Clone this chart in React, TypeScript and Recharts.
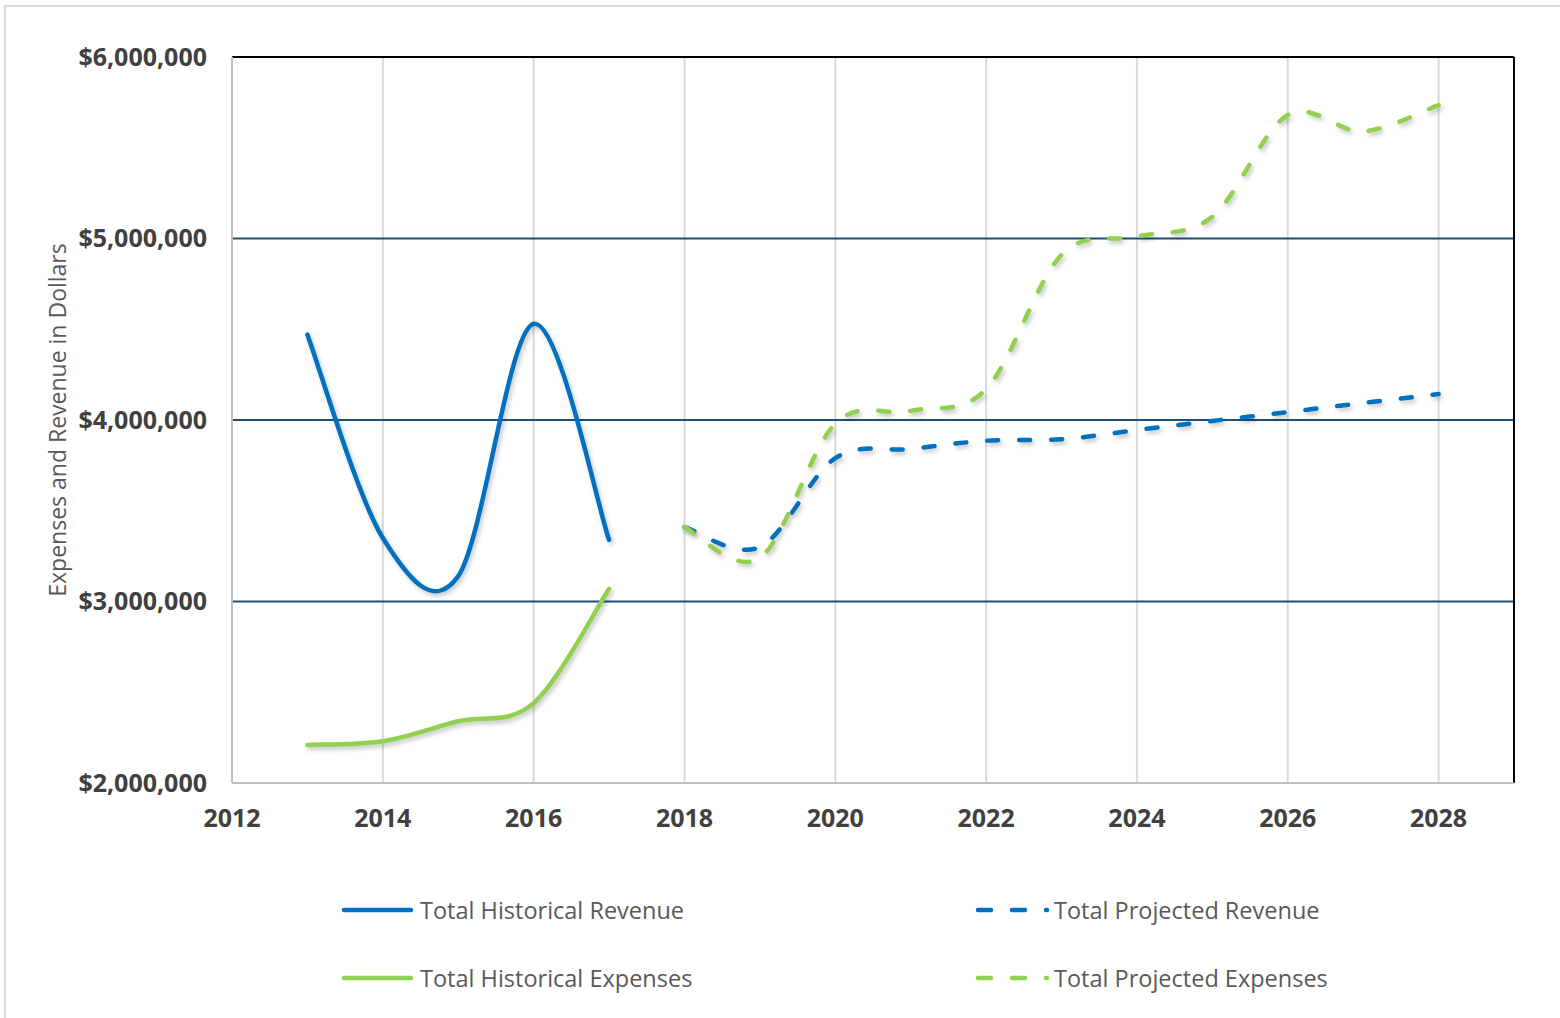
import React from 'react';
import { LineChart, Line, XAxis, YAxis, CartesianGrid, ReferenceLine } from 'recharts';

const histYears = [2013, 2014, 2015, 2016, 2017];
const histRevenue = [4470000, 3350000, 3140000, 4530000, 3340000];
const histExpenses = [2210000, 2230000, 2340000, 2440000, 3070000];

const projYears = [2018, 2019, 2020, 2021, 2022, 2023, 2024, 2025, 2026, 2027, 2028];
const projRevenue = [3410000, 3300000, 3790000, 3840000, 3886000, 3894000, 3945000, 3995000, 4044000, 4094000, 4143000];
const projExpenses = [3410000, 3240000, 3980000, 4050000, 4170000, 4910000, 5010000, 5120000, 5680000, 5590000, 5735000];

const xTicks = [2012, 2014, 2016, 2018, 2020, 2022, 2024, 2026, 2028];
const yTicks = [2000000, 3000000, 4000000, 5000000, 6000000];

const BLUE = '#0070C0';
const GREEN = '#92D050';
const FONT = '"Open Sans", "Liberation Sans", sans-serif';

const toRows = (years: number[], values: number[]) => years.map((year, i) => ({ year, v: values[i] }));

// Excel-style smoothing (Catmull-Rom via cubic Bezier)
const excelSmooth = (context: any) => {
  let xs: number[] = [];
  let ys: number[] = [];
  return {
    areaStart() {},
    areaEnd() {},
    lineStart() { xs = []; ys = []; },
    point(x: number, y: number) { xs.push(+x); ys.push(+y); },
    lineEnd() {
      const n = xs.length;
      if (!n) return;
      context.moveTo(xs[0], ys[0]);
      for (let i = 0; i < n - 1; i++) {
        const a = Math.max(i - 1, 0);
        const d = Math.min(i + 2, n - 1);
        context.bezierCurveTo(
          xs[i] + (xs[i + 1] - xs[a]) / 6,
          ys[i] + (ys[i + 1] - ys[a]) / 6,
          xs[i + 1] - (xs[d] - xs[i]) / 6,
          ys[i + 1] - (ys[d] - ys[i]) / 6,
          xs[i + 1],
          ys[i + 1]
        );
      }
    },
  };
};

const fmt = (v: number) => '$' + v.toLocaleString('en-US');

const YLabel = (props: any) => {
  const vb = props.viewBox || {};
  const cx = vb.x + 57;
  const cy = vb.y + vb.height / 2;
  return (
    <text
      x={cx}
      y={cy}
      transform={`rotate(-90 ${cx} ${cy})`}
      textAnchor="middle"
      dominantBaseline="central"
      fill="#595959"
      fontSize={23}
      fontFamily={FONT}
    >
      Expenses and Revenue in Dollars
    </text>
  );
};

const shadow = { filter: 'drop-shadow(2px 3px 2px rgba(0,0,0,0.22))' };

const LegendItem = ({ left, top, color, dashed, label }: any) => (
  <div style={{ position: 'absolute', left, top: top - 16, height: 32, display: 'flex', alignItems: 'center', whiteSpace: 'nowrap' }}>
    <svg width={76} height={32} style={{ display: 'block' }}>
      {dashed ? (
        <line x1={4} y1={16} x2={73} y2={16} stroke={color} strokeWidth={4.5} strokeLinecap="round" strokeDasharray="13 21" />
      ) : (
        <line x1={4} y1={16} x2={71} y2={16} stroke={color} strokeWidth={4.5} strokeLinecap="round" />
      )}
    </svg>
    <span style={{ fontFamily: FONT, fontSize: 23.5, color: '#595959', marginLeft: 4 }}>{label}</span>
  </div>
);

export default function App() {
  const hr = toRows(histYears, histRevenue);
  const he = toRows(histYears, histExpenses);
  const pr = toRows(projYears, projRevenue);
  const pe = toRows(projYears, projExpenses);
  const tickStyle = { fill: '#404040', fontSize: 25, fontWeight: 700, fontFamily: FONT };
  return (
    <div style={{ position: 'absolute', left: 0, top: 0, width: 1560, height: 1018, overflow: 'hidden', background: '#fff' }}>
      <div style={{ position: 'absolute', left: 4, top: 5, width: 1600, height: 1100, borderTop: '2px solid #D9D9D9', borderLeft: '2px solid #D9D9D9' }} />
      <LineChart width={1560} height={1018} margin={{ top: 57, right: 46, left: 0, bottom: 175 }} style={{ position: 'absolute', left: 0, top: 0 }}>
        <CartesianGrid horizontal={false} stroke="#D9D9D9" strokeWidth={2} verticalValues={[2014, 2016, 2018, 2020, 2022, 2024, 2026, 2028]} />
        <CartesianGrid vertical={false} stroke="#1F4E79" strokeWidth={2} horizontalValues={[3000000, 4000000, 5000000]} />
        <XAxis
          dataKey="year"
          type="number"
          domain={[2012, 2029]}
          ticks={xTicks}
          allowDuplicatedCategory={false}
          height={60}
          tickLine={false}
          tickSize={0}
          tickMargin={26}
          axisLine={{ stroke: '#BFBFBF', strokeWidth: 2 }}
          tick={tickStyle}
          interval={0}
        />
        <YAxis
          type="number"
          domain={[2000000, 6000000]}
          ticks={yTicks}
          width={232}
          tickLine={false}
          tickSize={0}
          tickMargin={25}
          axisLine={{ stroke: '#BFBFBF', strokeWidth: 2 }}
          tick={tickStyle}
          tickFormatter={fmt}
          interval={0}
          label={{ content: YLabel }}
        />
        <ReferenceLine y={6000000} stroke="#000" strokeWidth={2} />
        <ReferenceLine x={2029} stroke="#000" strokeWidth={2} />
        <Line data={hr} dataKey="v" name="Total Historical Revenue" type={excelSmooth as any} stroke={BLUE} strokeWidth={4.5} strokeLinecap="round" dot={false} activeDot={false} isAnimationActive={false} style={shadow} />
        <Line data={he} dataKey="v" name="Total Historical Expenses" type={excelSmooth as any} stroke={GREEN} strokeWidth={4.5} strokeLinecap="round" dot={false} activeDot={false} isAnimationActive={false} style={shadow} />
        <Line data={pr} dataKey="v" name="Total Projected Revenue" type={excelSmooth as any} stroke={BLUE} strokeWidth={4.5} strokeLinecap="round" strokeDasharray="11 21" dot={false} activeDot={false} isAnimationActive={false} style={shadow} />
        <Line data={pe} dataKey="v" name="Total Projected Expenses" type={excelSmooth as any} stroke={GREEN} strokeWidth={4.5} strokeLinecap="round" strokeDasharray="11 21" dot={false} activeDot={false} isAnimationActive={false} style={shadow} />
      </LineChart>
      <LegendItem left={340} top={910} color={BLUE} label="Total Historical Revenue" />
      <LegendItem left={340} top={978} color={GREEN} label="Total Historical Expenses" />
      <LegendItem left={974} top={910} color={BLUE} dashed label="Total Projected Revenue" />
      <LegendItem left={974} top={978} color={GREEN} dashed label="Total Projected Expenses" />
    </div>
  );
}
